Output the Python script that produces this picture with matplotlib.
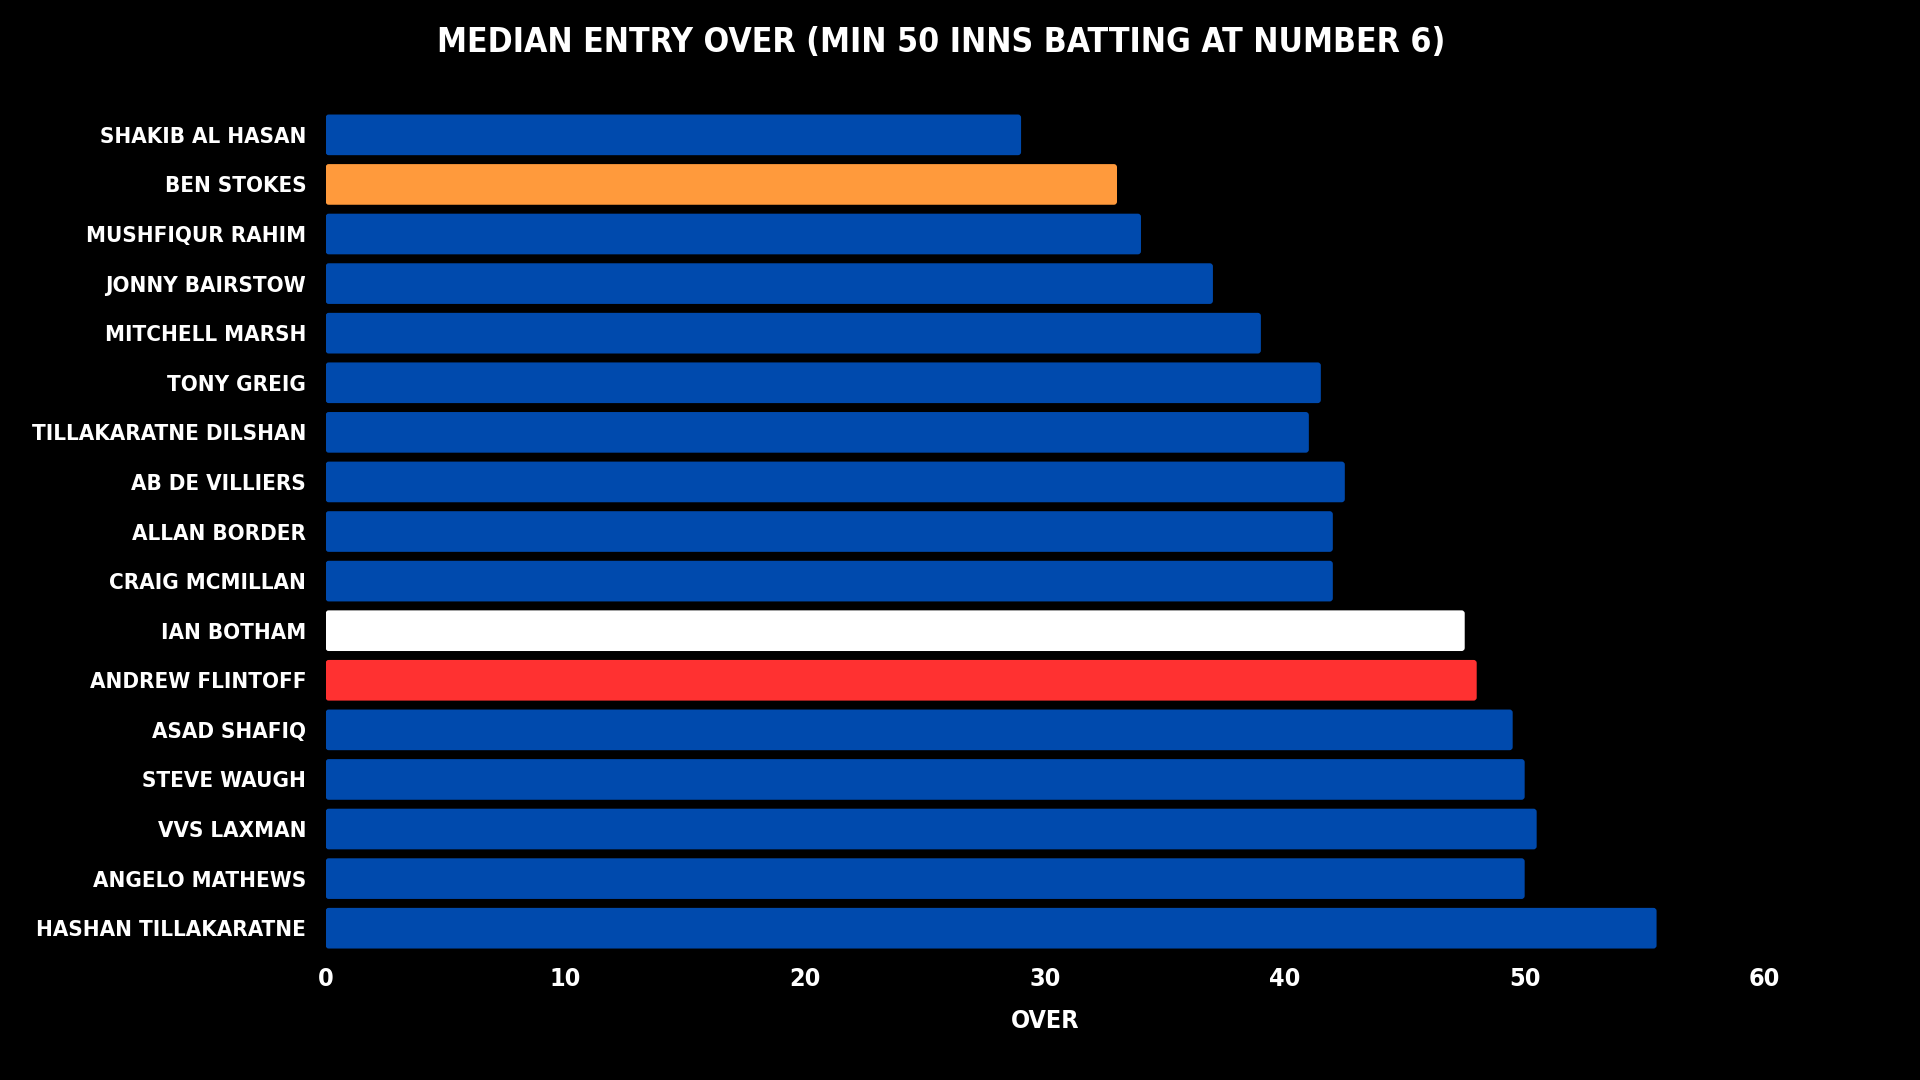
import matplotlib
matplotlib.use('Agg')
import matplotlib.pyplot as plt
from matplotlib.patches import FancyBboxPatch

# данные: медианный овер выхода (сверху вниз как на картинке)
players = ['SHAKIB AL HASAN', 'BEN STOKES', 'MUSHFIQUR RAHIM', 'JONNY BAIRSTOW',
           'MITCHELL MARSH', 'TONY GREIG', 'TILLAKARATNE DILSHAN', 'AB DE VILLIERS',
           'ALLAN BORDER', 'CRAIG MCMILLAN', 'IAN BOTHAM', 'ANDREW FLINTOFF',
           'ASAD SHAFIQ', 'STEVE WAUGH', 'VVS LAXMAN', 'ANGELO MATHEWS',
           'HASHAN TILLAKARATNE']
overs = [29, 33, 34, 37, 39, 41.5, 41, 42.5, 42, 42, 47.5, 48, 49.5, 50, 50.5, 50, 55.5]
x_ticks = [0, 10, 20, 30, 40, 50, 60]

blue = '#004AAD'
highlight = {'BEN STOKES': '#FF9A3C', 'IAN BOTHAM': '#FFFFFF', 'ANDREW FLINTOFF': '#FF3131'}
colors = [highlight.get(p, blue) for p in players]

plt.rcParams['font.family'] = ['DejaVu Sans']
plt.rcParams['font.stretch'] = 'condensed'
plt.rcParams['font.weight'] = 'bold'

fig = plt.figure(figsize=(19.2, 10.8), dpi=100, facecolor='black')
ax = fig.add_axes([0.1696, 0.1176, 0.7494, 0.7805], facecolor='black')

ypos = list(range(len(players)))
bars = ax.barh(ypos, overs, height=0.82, color=colors)

# скругляем углы баров
for b in bars:
    x0, y0 = b.get_x(), b.get_y()
    w, h = b.get_width(), b.get_height()
    p = FancyBboxPatch((x0, y0), w, h, boxstyle='round,pad=0,rounding_size=0.13',
                       mutation_aspect=0.48, facecolor=b.get_facecolor(), edgecolor='none')
    ax.add_patch(p)
    b.set_visible(False)

ax.set_ylim(len(players) - 0.5, -0.5)
ax.set_xlim(0, 60)
ax.set_yticks(ypos)
ax.set_yticklabels(players, fontsize=20, color='white', fontweight='bold')
ax.set_xticks(x_ticks)
ax.set_xticklabels([str(t) for t in x_ticks], fontsize=18, color='white', fontweight='bold')
ax.tick_params(length=0)
ax.tick_params(axis='y', pad=14)
ax.tick_params(axis='x', pad=10)
for s in ax.spines.values():
    s.set_visible(False)

ax.set_xlabel('OVER', fontsize=18, color='white', fontweight='bold', labelpad=13)
title = fig.suptitle('MEDIAN ENTRY OVER (MIN 50 INNS BATTING AT NUMBER 6)', x=0.49, y=0.976,
                     fontsize=33, color='white', fontweight='bold')

# подгоняем размер шрифта под ширину как на картинке
fig.canvas.draw()
r = fig.canvas.get_renderer()
w = max(t.get_window_extent(r).width for t in ax.get_yticklabels())
fs = 20 * 274 / w
for t in ax.get_yticklabels():
    t.set_fontsize(fs)
tw = title.get_window_extent(r).width
title.set_fontsize(33 * 1010 / tw)

fig.savefig('out.png', dpi=100, facecolor='black')
